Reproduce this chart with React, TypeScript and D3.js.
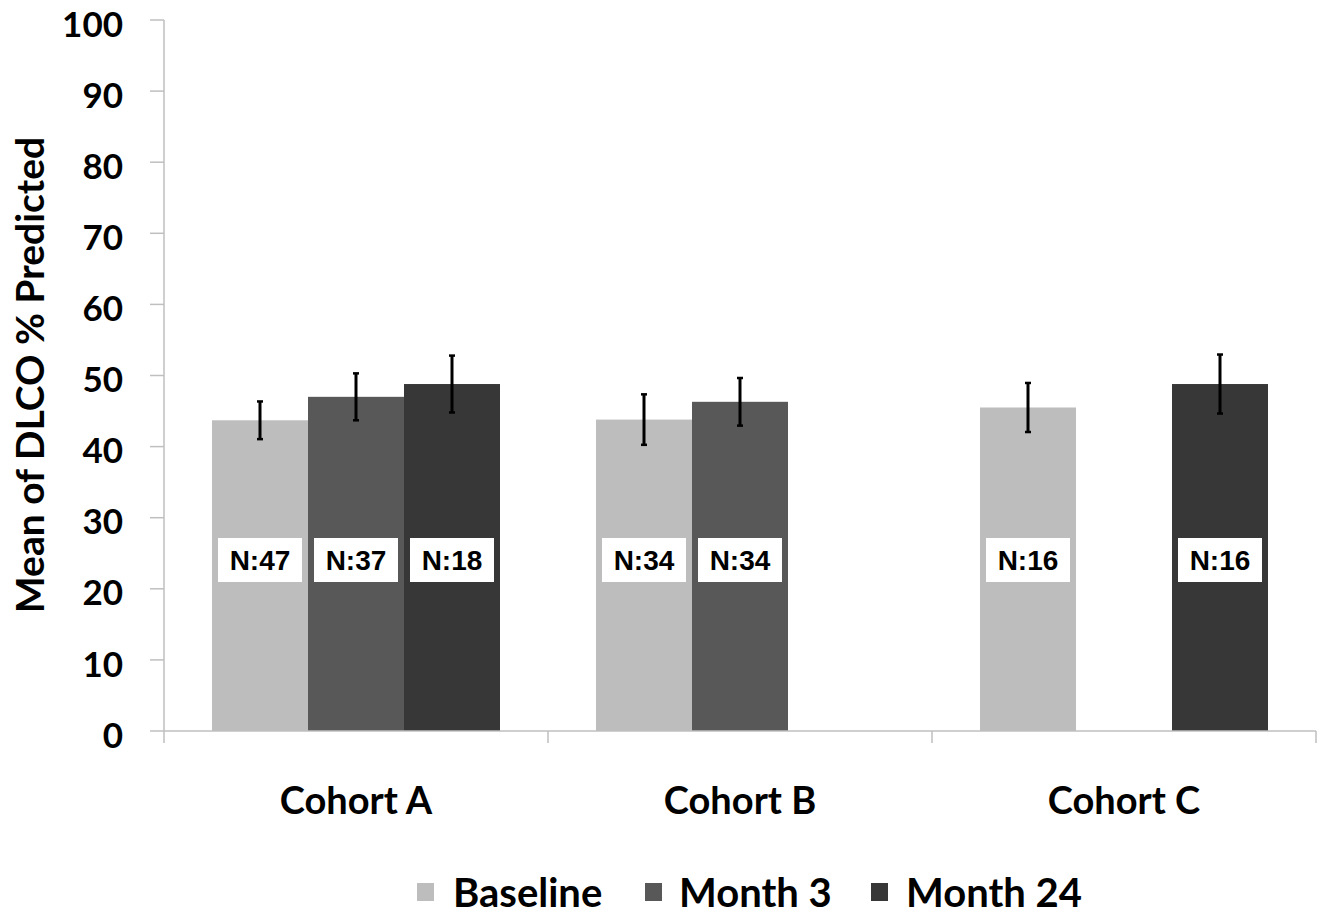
import React from "react";
import * as d3 from "d3";

const categories = ["Cohort A", "Cohort B", "Cohort C"];
const seriesNames = ["Baseline", "Month 3", "Month 24"];
const baselineValues = [43.7, 43.8, 45.5];
const month3Values = [47.0, 46.3, null];
const month24Values = [48.8, null, 48.8];
const baselineErr = [2.65, 3.55, 3.45];
const month3Err = [3.3, 3.35, null];
const month24Err = [4.0, null, 4.15];
const baselineN = ["N:47", "N:34", "N:16"];
const month3N = ["N:37", "N:34", null];
const month24N = ["N:18", null, "N:16"];
const yTicks = [0, 10, 20, 30, 40, 50, 60, 70, 80, 90, 100];

const colors = ["#bdbdbd", "#585858", "#373737"];
const W = 1329;
const H = 920;
const calibri = "Lato, 'Open Sans', sans-serif";

export default function App() {
  const x0 = 164, x1 = 1316, yTop = 20, yBot = 731;
  const xg = d3.scaleBand<string>().domain(categories).range([x0, x1]).paddingInner(0).paddingOuter(0);
  const xs = d3.scaleBand<string>().domain(seriesNames).range([0, xg.bandwidth()]).paddingInner(0).paddingOuter(0.5);
  const y = d3.scaleLinear().domain([0, 100]).range([yBot, yTop]);

  const vals = [baselineValues, month3Values, month24Values];
  const errs = [baselineErr, month3Err, month24Err];
  const ns = [baselineN, month3N, month24N];

  const bars: any[] = [];
  categories.forEach((c, ci) => {
    seriesNames.forEach((s, si) => {
      const v = vals[si][ci];
      if (v == null) return;
      bars.push({ c, s, si, v, e: errs[si][ci], n: ns[si][ci], x: (xg(c) as number) + (xs(s) as number) });
    });
  });
  const bw = xs.bandwidth();
  const boundaries = [...categories.map((c) => xg(c) as number), x1];

  return (
    <svg width={W} height={H} style={{ position: "absolute", left: 0, top: 0, background: "#fff" }}>
      <rect x={0} y={0} width={W} height={H} fill="#fff" />
      {/* y axis */}
      <line x1={x0} x2={x0} y1={yTop} y2={yBot} stroke="#bfbfbf" strokeWidth={1.5} />
      {yTicks.map((t) => (
        <g key={t}>
          <line x1={150} x2={x0} y1={y(t)} y2={y(t)} stroke="#bfbfbf" strokeWidth={1.5} />
          <text x={123} y={y(t) + 4} dy="0.36em" textAnchor="end" fontFamily={calibri} fontWeight="bold" fontSize={35} fill="#000">
            {t}
          </text>
        </g>
      ))}
      {/* bars */}
      {bars.map((b, i) => (
        <rect key={i} x={b.x} y={y(b.v)} width={bw} height={yBot - y(b.v)} fill={colors[b.si]} />
      ))}
      {/* x axis */}
      <line x1={x0} x2={x1} y1={yBot} y2={yBot} stroke="#bfbfbf" strokeWidth={1.5} />
      {boundaries.map((bx, i) => (
        <line key={i} x1={bx} x2={bx} y1={yBot} y2={yBot + 12} stroke="#bfbfbf" strokeWidth={1.5} />
      ))}
      {/* error bars */}
      {bars.map((b, i) => {
        const cx = b.x + bw / 2;
        return (
          <g key={i} stroke="#000">
            <line x1={cx} x2={cx} y1={y(b.v + b.e)} y2={y(b.v - b.e)} strokeWidth={3} />
            <line x1={cx - 3} x2={cx + 3} y1={y(b.v + b.e)} y2={y(b.v + b.e)} strokeWidth={2.5} />
            <line x1={cx - 3} x2={cx + 3} y1={y(b.v - b.e)} y2={y(b.v - b.e)} strokeWidth={2.5} />
          </g>
        );
      })}
      {/* N labels */}
      {bars.map((b, i) => {
        const cx = b.x + bw / 2;
        const cy = 560;
        return (
          <g key={i}>
            <rect x={cx - 42} y={cy - 22} width={84} height={44} fill="#fff" />
            <text x={cx} y={cy} dy="0.36em" textAnchor="middle" fontFamily="'Liberation Sans', Arial, sans-serif" fontWeight="bold" fontSize={28} fill="#000">
              {b.n}
            </text>
          </g>
        );
      })}
      {/* category labels */}
      {categories.map((c) => (
        <text key={c} x={(xg(c) as number) + xg.bandwidth() / 2} y={814} textAnchor="middle" fontFamily={calibri} fontWeight="bold" fontSize={38} fill="#000">
          {c}
        </text>
      ))}
      {/* y title */}
      <text transform="translate(44,375) rotate(-90)" textAnchor="middle" fontFamily={calibri} fontWeight="bold" fontSize={39} fill="#000">
        Mean of DLCO % Predicted
      </text>
      {/* legend */}
      {[
        { sx: 417, tx: 453 },
        { sx: 645, tx: 679 },
        { sx: 871, tx: 906 },
      ].map((p, i) => (
        <g key={i}>
          <rect x={p.sx} y={883} width={17} height={18} fill={colors[i]} />
          <text x={p.tx} y={907} fontFamily={calibri} fontWeight="bold" fontSize={40} fill="#000">
            {seriesNames[i]}
          </text>
        </g>
      ))}
    </svg>
  );
}
